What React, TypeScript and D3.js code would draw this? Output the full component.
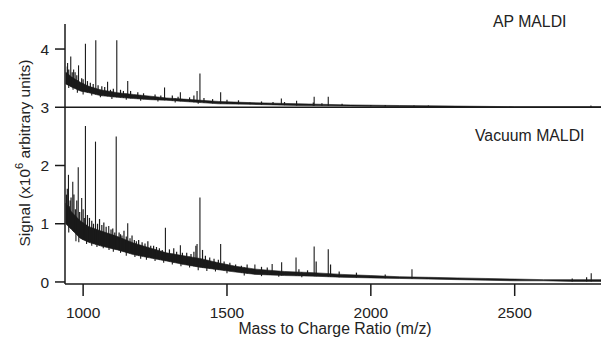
import React from "react";
import * as d3 from "d3";

// ---------- data ----------
const xTicks = [1000, 1500, 2000, 2500];
const yTicks = [0, 1, 2, 3, 4];

// Vacuum MALDI dense noise core
const vacEnvMz = [940, 960, 990, 1020, 1060, 1120, 1175, 1235, 1290, 1350, 1410, 1470, 1530, 1600, 1700, 1800, 1900, 2000, 2100, 2200, 2300, 2400, 2500, 2600, 2700, 2800];
const vacEnvUpper = [1.35, 1.2, 1.05, 0.95, 0.88, 0.78, 0.67, 0.58, 0.5, 0.45, 0.4, 0.33, 0.27, 0.22, 0.18, 0.16, 0.13, 0.11, 0.09, 0.08, 0.07, 0.06, 0.05, 0.04, 0.04, 0.04];
const vacEnvLower = [1.0, 0.9, 0.75, 0.68, 0.62, 0.55, 0.47, 0.41, 0.36, 0.3, 0.25, 0.21, 0.17, 0.13, 0.11, 0.1, 0.08, 0.07, 0.06, 0.05, 0.04, 0.03, 0.02, 0.02, 0.01, 0.01];

// Vacuum MALDI peaks
const vacPeakMz = [949, 964, 983, 995, 1008, 1043, 1089, 1115, 1155, 1286, 1338, 1396, 1406, 1478, 1597, 1657, 1690, 1740, 1803, 1852, 2143, 2766];
const vacPeakVal = [1.84, 1.72, 1.97, 1.44, 2.68, 2.41, 0.96, 2.5, 1.01, 0.93, 0.63, 0.65, 1.45, 0.65, 0.3, 0.31, 0.34, 0.42, 0.61, 0.56, 0.22, 0.15];

// Vacuum MALDI minor spikes (upward)
const vacMinorMz = [942, 945, 952, 955, 958, 968, 973, 978, 988, 1000, 1004, 1015, 1022, 1030, 1036, 1050, 1057, 1065, 1072, 1080, 1097, 1103, 1110, 1125, 1130, 1135, 1142, 1150, 1163, 1170, 1178, 1185, 1193, 1205, 1215, 1225, 1235, 1245, 1255, 1265, 1275, 1300, 1315, 1325, 1345, 1360, 1375, 1385, 1392, 1415, 1425, 1440, 1455, 1470, 1490, 1510, 1530, 1550, 1570, 1620, 1640, 1750, 1780, 1810, 1860, 1890, 1950, 2050, 2700, 2750];
const vacMinorVal = [1.5, 1.6, 1.3, 1.4, 1.45, 1.5, 1.25, 1.4, 1.2, 1.25, 1.1, 1.15, 1.1, 1.05, 1.0, 1.0, 1.08, 0.98, 1.02, 0.95, 0.9, 0.92, 0.85, 0.85, 0.82, 0.8, 0.88, 0.78, 0.75, 0.8, 0.72, 0.7, 0.72, 0.68, 0.66, 0.7, 0.62, 0.62, 0.6, 0.58, 0.55, 0.56, 0.58, 0.52, 0.5, 0.5, 0.48, 0.52, 0.62, 0.55, 0.45, 0.42, 0.4, 0.38, 0.35, 0.33, 0.3, 0.28, 0.3, 0.26, 0.25, 0.22, 0.2, 0.35, 0.3, 0.18, 0.16, 0.13, 0.06, 0.08];

// Vacuum MALDI dips (downward spikes)
const vacDipMz = [950, 962, 975, 985, 1000, 1012, 1030, 1048, 1070, 1090, 1105, 1130, 1150, 1180, 1200, 1220, 1250, 1280, 1310, 1340, 1370, 1400, 1430, 1460, 1500, 1560, 1620, 1680, 1760];
const vacDipVal = [0.85, 0.9, 0.7, 0.68, 0.72, 0.65, 0.62, 0.6, 0.58, 0.55, 0.52, 0.5, 0.45, 0.43, 0.4, 0.38, 0.36, 0.33, 0.3, 0.27, 0.25, 0.2, 0.19, 0.18, 0.15, 0.11, 0.1, 0.09, 0.08];

// AP MALDI (values relative to its own baseline, which sits at 3 on the axis)
const apOffset = 3;
const apEnvMz = [940, 960, 990, 1020, 1060, 1120, 1175, 1235, 1290, 1350, 1410, 1470, 1580, 1750, 1930, 2100, 2300, 2500, 2800];
const apEnvUpper = [0.6, 0.52, 0.43, 0.36, 0.3, 0.25, 0.22, 0.19, 0.16, 0.14, 0.12, 0.1, 0.08, 0.06, 0.04, 0.03, 0.02, 0.01, 0.01];
const apEnvLower = [0.4, 0.35, 0.28, 0.25, 0.2, 0.17, 0.15, 0.13, 0.12, 0.1, 0.08, 0.06, 0.05, 0.03, 0.02, 0.01, 0, 0, 0];

const apPeakMz = [946, 957, 967, 984, 1008, 1044, 1085, 1117, 1155, 1283, 1338, 1396, 1406, 1478, 1580, 1689, 1742, 1803, 1852, 2765];
const apPeakVal = [0.76, 0.87, 0.65, 0.72, 1.09, 1.15, 0.44, 1.15, 0.45, 0.34, 0.26, 0.28, 0.58, 0.26, 0.08, 0.15, 0.11, 0.18, 0.18, 0.03];

const apMinorMz = [945, 950, 962, 972, 978, 995, 1000, 1015, 1025, 1035, 1052, 1065, 1075, 1095, 1105, 1130, 1140, 1165, 1190, 1210, 1250, 1270, 1310, 1330, 1370, 1385, 1420, 1450, 1500, 1540, 1620, 1660, 1700, 1800, 1830, 1900, 2000, 2050, 2150, 2200];
const apMinorVal = [0.7, 0.65, 0.6, 0.6, 0.55, 0.5, 0.48, 0.45, 0.42, 0.4, 0.38, 0.36, 0.35, 0.3, 0.32, 0.3, 0.28, 0.28, 0.26, 0.24, 0.22, 0.2, 0.2, 0.18, 0.17, 0.2, 0.16, 0.14, 0.13, 0.12, 0.1, 0.09, 0.09, 0.08, 0.07, 0.06, 0.04, 0.04, 0.03, 0.03];

const apDipMz = [950, 965, 980, 1000, 1030, 1060, 1100, 1150, 1200, 1260, 1320, 1400];
const apDipVal = [0.33, 0.3, 0.25, 0.22, 0.2, 0.17, 0.14, 0.13, 0.11, 0.1, 0.08, 0.06];

const W = 602;
const H = 339;
const FONT = "'Liberation Sans', Arial, Helvetica, sans-serif";
const INK = "#1a1a1a";
const TXT = "#222";

function Spectrum({ x, y, envMz, upper, lower, peakMz, peakVal, minorMz, minorVal, dipMz, dipVal, offset }: any) {
  const env = envMz.map((m: number, i: number) => ({ m, u: upper[i] + offset, l: lower[i] + offset }));
  const area = d3
    .area<any>()
    .x((d) => x(d.m))
    .y0((d) => y(d.l))
    .y1((d) => y(d.u))(env);
  const lowerAt = d3.scaleLinear().domain(envMz).range(lower).clamp(true);
  const upperAt = d3.scaleLinear().domain(envMz).range(upper).clamp(true);
  const minor = minorMz.map((m: number, i: number) => ({ m, v: minorVal[i] }));
  const peaks = peakMz.map((m: number, i: number) => ({ m, v: peakVal[i] }));
  const dips = dipMz.map((m: number, i: number) => ({ m, v: dipVal[i] }));
  return (
    <g>
      <path d={area || ""} fill={INK} stroke={INK} strokeWidth={0.6} />
      {dips.map((s: any, i: number) => (
        <line key={"d" + i} x1={x(s.m)} x2={x(s.m)} y1={y(upperAt(s.m) + offset)} y2={y(s.v + offset)}
          stroke={INK} strokeWidth={1.1} />
      ))}
      {minor.map((s: any, i: number) => (
        <line key={"m" + i} x1={x(s.m)} x2={x(s.m)} y1={y(lowerAt(s.m) + offset)} y2={y(s.v + offset)}
          stroke={INK} strokeWidth={1.2} />
      ))}
      {peaks.map((s: any, i: number) => (
        <line key={"p" + i} x1={x(s.m)} x2={x(s.m)} y1={y(lowerAt(s.m) + offset)} y2={y(s.v + offset)}
          stroke={INK} strokeWidth={1.1} />
      ))}
    </g>
  );
}

export default function App() {
  const x = d3.scaleLinear().domain([937, 2800]).range([65, 601]);
  const y = d3.scaleLinear().domain([-0.035, 4.43]).range([284, 24]);
  const x0 = x.range()[0];
  const x1 = x.range()[1];
  const yb = y.range()[0];

  return (
    <div style={{ position: "fixed", left: 0, top: 0, background: "#fff" }}>
      <svg width={W} height={H} style={{ display: "block", fontFamily: FONT }}>
        <rect width={W} height={H} fill="#fff" />
        <defs>
          <clipPath id="plotclip">
            <rect x={x0} y={0} width={x1 - x0} height={yb} />
          </clipPath>
        </defs>
        <g clipPath="url(#plotclip)">
          <Spectrum x={x} y={y} envMz={vacEnvMz} upper={vacEnvUpper} lower={vacEnvLower}
            peakMz={vacPeakMz} peakVal={vacPeakVal} minorMz={vacMinorMz} minorVal={vacMinorVal}
            dipMz={vacDipMz} dipVal={vacDipVal} offset={0} />
          <Spectrum x={x} y={y} envMz={apEnvMz} upper={apEnvUpper} lower={apEnvLower}
            peakMz={apPeakMz} peakVal={apPeakVal} minorMz={apMinorMz} minorVal={apMinorVal}
            dipMz={apDipMz} dipVal={apDipVal} offset={apOffset} />
        </g>
        {/* AP baseline */}
        <line x1={x0} x2={x1} y1={y(apOffset)} y2={y(apOffset)} stroke={INK} strokeWidth={1.5} />
        {/* axes */}
        <line x1={x0} x2={x0} y1={y.range()[1]} y2={yb} stroke={INK} strokeWidth={1.5} />
        <line x1={x0} x2={x1} y1={yb} y2={yb} stroke={INK} strokeWidth={1.5} />
        {yTicks.map((t) => (
          <g key={t}>
            <line x1={x0 - 10} x2={x0} y1={y(t)} y2={y(t)} stroke={INK} strokeWidth={1.5} />
            <text x={x0 - 16} y={y(t)} dy="0.36em" textAnchor="end" fontSize={15.5} fill={TXT}>
              {t}
            </text>
          </g>
        ))}
        {xTicks.map((t) => (
          <g key={t}>
            <line x1={x(t)} x2={x(t)} y1={yb} y2={yb + 12} stroke={INK} strokeWidth={1.5} />
            <text x={x(t)} y={318} textAnchor="middle" fontSize={15.5} fill={TXT}>
              {t}
            </text>
          </g>
        ))}
        <text x={335} y={334} textAnchor="middle" fontSize={15.8} fill={TXT}>
          Mass to Charge Ratio (m/z)
        </text>
        <text transform="translate(30,153) rotate(-90)" textAnchor="middle" fontSize={15.5} fill={TXT}>
          Signal (x10<tspan dy="-7" fontSize={11}>6</tspan>
          <tspan dy="7"> arbitrary units)</tspan>
        </text>
        <text x={493} y={27} fontSize={15.8} fill={TXT}>AP MALDI</text>
        <text x={475} y={141} fontSize={15.8} fill={TXT}>Vacuum MALDI</text>
      </svg>
    </div>
  );
}
